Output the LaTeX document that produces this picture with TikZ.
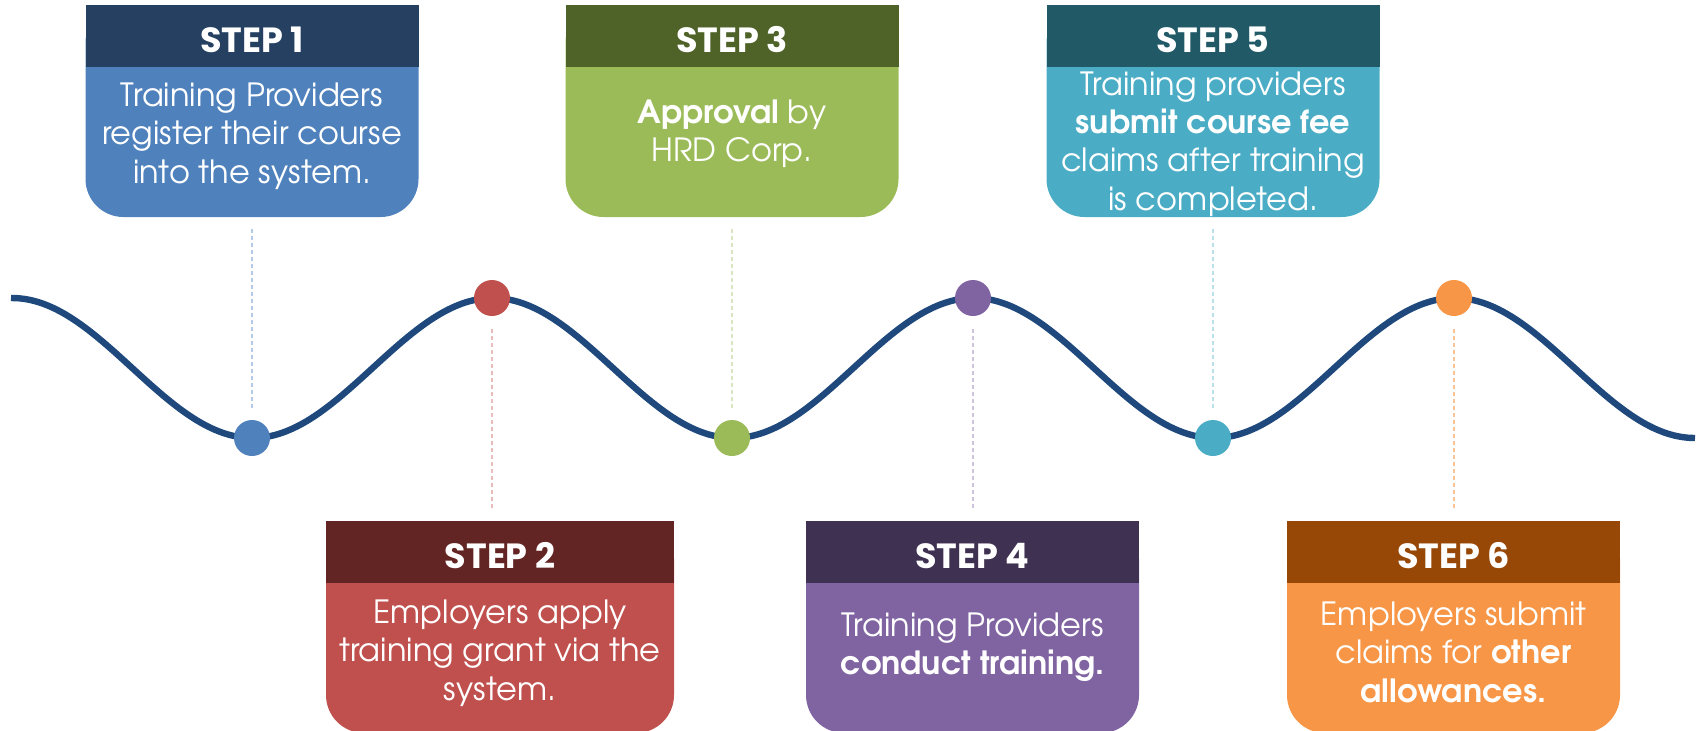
\documentclass[tikz,border=0pt]{standalone}
\usepackage{fontspec}
\setmainfont{texgyreadventor}[Extension=.otf, UprightFont=*-regular, BoldFont=*-bold, ItalicFont=*-italic, BoldItalicFont=*-bolditalic]
\newfontfamily\headfont{Poppins}
\usetikzlibrary{calc}
\definecolor{wavec}{HTML}{1F497D}
\definecolor{hA}{HTML}{254061}\definecolor{bA}{HTML}{4F81BD}\definecolor{dA}{HTML}{B4C9E6}
\definecolor{hB}{HTML}{632523}\definecolor{bB}{HTML}{C0504D}\definecolor{dB}{HTML}{E8BCBB}
\definecolor{hC}{HTML}{4F6228}\definecolor{bC}{HTML}{9BBB59}\definecolor{dC}{HTML}{D8E5BE}
\definecolor{hD}{HTML}{3F3151}\definecolor{bD}{HTML}{8064A2}\definecolor{dD}{HTML}{CFC3DD}
\definecolor{hE}{HTML}{215967}\definecolor{bE}{HTML}{4BACC6}\definecolor{dE}{HTML}{B9DFE9}
\definecolor{hF}{HTML}{974806}\definecolor{bF}{HTML}{F79646}\definecolor{dF}{HTML}{FAC396}
\tikzset{
  boxshape/.style={minimum height=106pt, inner sep=0pt, outer sep=0pt, draw=none},
  headbar/.style={minimum height=31pt, inner sep=0pt, outer sep=0pt, anchor=north, text=white,
     text height=16.2pt, text depth=0pt,
     font=\headfont\bfseries\fontsize{17.5}{19}\selectfont},
  bodytxt/.style={text=white, align=center, inner sep=0pt, font=\fontsize{16}{19.2}\selectfont},
  dotnode/.style={circle, minimum size=18pt, inner sep=0pt, draw=none},
  conn/.style={line width=1.2pt, dash pattern=on 2pt off 1.5pt, shorten <=6pt, shorten >=6pt},
  wave/.style={draw=wavec, line width=3.2pt}
}
\begin{document}
\begin{tikzpicture}[x=0.5pt, y=-0.5pt]
\useasboundingbox (0,0) rectangle (1698,730);
% wave
\draw[wave] plot[domain=11:1695, samples=240, smooth] (\x, {368 - 70*cos((\x-12)*0.74875)});
% dots on the wave
\node[dotnode, fill=bA] (c1) at (252,438) {};
\node[dotnode, fill=bB] (c2) at (492,298) {};
\node[dotnode, fill=bC] (c3) at (732,438) {};
\node[dotnode, fill=bD] (c4) at (973,298) {};
\node[dotnode, fill=bE] (c5) at (1213,438) {};
\node[dotnode, fill=bF] (c6) at (1454,298) {};
% boxes
\node[boxshape, minimum width=166.5pt] (b1) at (252,111) {};
\node[boxshape, minimum width=166.5pt] (b3) at (732,111) {};
\node[boxshape, minimum width=166.5pt] (b5) at (1213,111) {};
\node[boxshape, minimum width=174pt] (b2) at (500,627) {};
\node[boxshape, minimum width=166.5pt] (b4) at (972.5,627) {};
\node[boxshape, minimum width=166.5pt] (b6) at (1453.5,627) {};
\fill[bA, rounded corners=19pt] (b1.north west) rectangle (b1.south east);
\fill[bC, rounded corners=19pt] (b3.north west) rectangle (b3.south east);
\fill[bE, rounded corners=19pt] (b5.north west) rectangle (b5.south east);
\fill[bB, rounded corners=19pt] (b2.north west) rectangle (b2.south east);
\fill[bD, rounded corners=19pt] (b4.north west) rectangle (b4.south east);
\fill[bF, rounded corners=19pt] (b6.north west) rectangle (b6.south east);
\node[headbar, fill=hA, minimum width=166.5pt] (h1) at (b1.north) {STEP 1};
\node[headbar, fill=hC, minimum width=166.5pt] (h3) at (b3.north) {STEP 3};
\node[headbar, fill=hE, minimum width=166.5pt] (h5) at (b5.north) {STEP 5};
\node[headbar, fill=hB, minimum width=174pt] (h2) at (b2.north) {STEP 2};
\node[headbar, fill=hD, minimum width=166.5pt] (h4) at (b4.north) {STEP 4};
\node[headbar, fill=hF, minimum width=166.5pt] (h6) at (b6.north) {STEP 6};
% texts
\node[bodytxt] (t1) at (252,136) {Training Providers\\register their course\\into the system.};
\node[bodytxt] (t3) at (732,134) {\textbf{Approval} by\\HRD Corp.};
\node[bodytxt] (t5) at (1213,144) {Training providers\\\textbf{submit course fee}\\claims after training\\is completed.};
\node[bodytxt] (t2) at (500,653) {Employers apply\\training grant via the\\system.};
\node[bodytxt] (t4) at (972.5,647) {Training Providers\\\textbf{conduct training.}};
\node[bodytxt] (t6) at (1453.5,652) {Employers submit\\claims for \textbf{other}\\\textbf{allowances.}};
% dotted connectors
\draw[conn, draw=dA] (c1) -- (c1 |- b1.south);
\draw[conn, draw=dC] (c3) -- (c3 |- b3.south);
\draw[conn, draw=dE] (c5) -- (c5 |- b5.south);
\draw[conn, draw=dB, shorten <=6.5pt, shorten >=6.5pt] (c2) -- (c2 |- b2.north);
\draw[conn, draw=dD, shorten <=6.5pt, shorten >=6.5pt] (c4) -- (c4 |- b4.north);
\draw[conn, draw=dF, shorten <=6.5pt, shorten >=6.5pt] (c6) -- (c6 |- b6.north);
\end{tikzpicture}
\end{document}
